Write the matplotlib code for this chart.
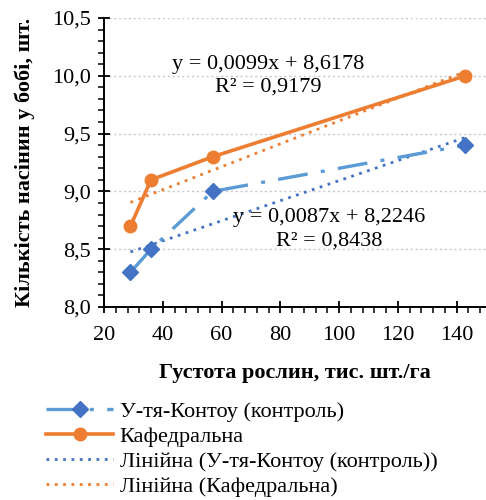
import matplotlib
matplotlib.use("Agg")
import matplotlib.pyplot as plt
import numpy as np
from matplotlib.lines import Line2D
from matplotlib.ticker import FuncFormatter, MultipleLocator

plt.rcParams["font.family"] = ["Liberation Serif", "DejaVu Serif"]

# data
density = [29, 36, 57, 143]
kontou = [8.3, 8.5, 9.0, 9.4]
kafedralna = [8.7, 9.1, 9.3, 10.0]

series_names = ["У-тя-Контоу (контроль)", "Кафедральна"]
trend_names = ["Лінійна (У-тя-Контоу (контроль))", "Лінійна (Кафедральна)"]
eq_kontou = "y = 0,0087x + 8,2246\nR² = 0,8438"
eq_kafedralna = "y = 0,0099x + 8,6178\nR² = 0,9179"

BLUE_LINE = "#5B9BD5"
BLUE_MARK = "#4472C4"
ORANGE = "#ED7D31"
FS = 16

fig = plt.figure(figsize=(4.86, 5.0), dpi=100)
ax = fig.add_axes([0.214, 0.386, 0.786, 0.578])

# raw series
ax.plot(density, kontou, color=BLUE_LINE, lw=2.4, dashes=(9, 4, 1.2, 4),
        marker="D", ms=8, mfc=BLUE_MARK, mec=BLUE_MARK, zorder=3)
ax.plot(density, kafedralna, color=ORANGE, lw=2.6,
        marker="o", ms=9, mfc=ORANGE, mec=ORANGE, zorder=3)

# linear trendlines over the same points
x = np.array(density, dtype=float)
for ys, col in ((kontou, BLUE_MARK), (kafedralna, ORANGE)):
    k, b = np.polyfit(x, ys, 1)
    xs = np.array([x.min(), x.max()])
    ax.plot(xs, k * xs + b, color=col, lw=2.0, ls=(0, (1, 2.0)), zorder=2)

ax.text(76, 10.0, eq_kafedralna, ha="center", va="center",
        fontsize=FS, linespacing=1.3)
ax.text(96.5, 8.67, eq_kontou, ha="center", va="center",
        fontsize=FS, linespacing=1.3)

ax.set_xlim(20, 150)
ax.set_ylim(8.0, 10.5)
ax.xaxis.set_major_locator(MultipleLocator(20))
ax.xaxis.set_minor_locator(MultipleLocator(4))
ax.yaxis.set_major_locator(MultipleLocator(0.5))
ax.yaxis.set_minor_locator(MultipleLocator(0.1))
ax.xaxis.set_major_formatter(FuncFormatter(lambda v, p: f"{v:.0f}" if v <= 140 else ""))
ax.yaxis.set_major_formatter(FuncFormatter(lambda v, p: f"{v:.1f}".replace(".", ",")))
ax.tick_params(axis="both", which="major", direction="inout", length=9, width=1.3,
               labelsize=FS, colors="black")
ax.tick_params(axis="both", which="minor", direction="out", length=4, width=1.1)
ax.tick_params(axis="x", pad=9)
ax.tick_params(axis="y", pad=5)

ax.grid(axis="y", which="major", color="#C8C8C8", ls=(0, (1.5, 2)), lw=1.0)
ax.set_axisbelow(True)
for s in ("top", "right"):
    ax.spines[s].set_visible(False)
for s in ("left", "bottom"):
    ax.spines[s].set_linewidth(1.4)

ax.set_xlabel("Густота рослин, тис. шт./га", fontsize=FS, fontweight="bold", labelpad=13)
ax.set_ylabel("Кількість насінин у бобі, шт.", fontsize=FS, fontweight="bold", labelpad=12)

handles = [
    Line2D([], [], color=BLUE_LINE, lw=2.4, dashes=(9, 4, 1.2, 4), marker="D",
           ms=8, mfc=BLUE_MARK, mec=BLUE_MARK),
    Line2D([], [], color=ORANGE, lw=2.6, marker="o", ms=9, mfc=ORANGE, mec=ORANGE),
    Line2D([], [], color=BLUE_MARK, lw=2.0, ls=(0, (1, 2.0))),
    Line2D([], [], color=ORANGE, lw=2.0, ls=(0, (1, 2.0))),
]
fig.legend(handles, series_names + trend_names, loc="upper left",
           bbox_to_anchor=(0.095, 0.198), frameon=False, fontsize=FS,
           handlelength=3.0, handletextpad=0.3, labelspacing=0.2,
           borderaxespad=0, borderpad=0)

fig.savefig("out.png", dpi=100)
